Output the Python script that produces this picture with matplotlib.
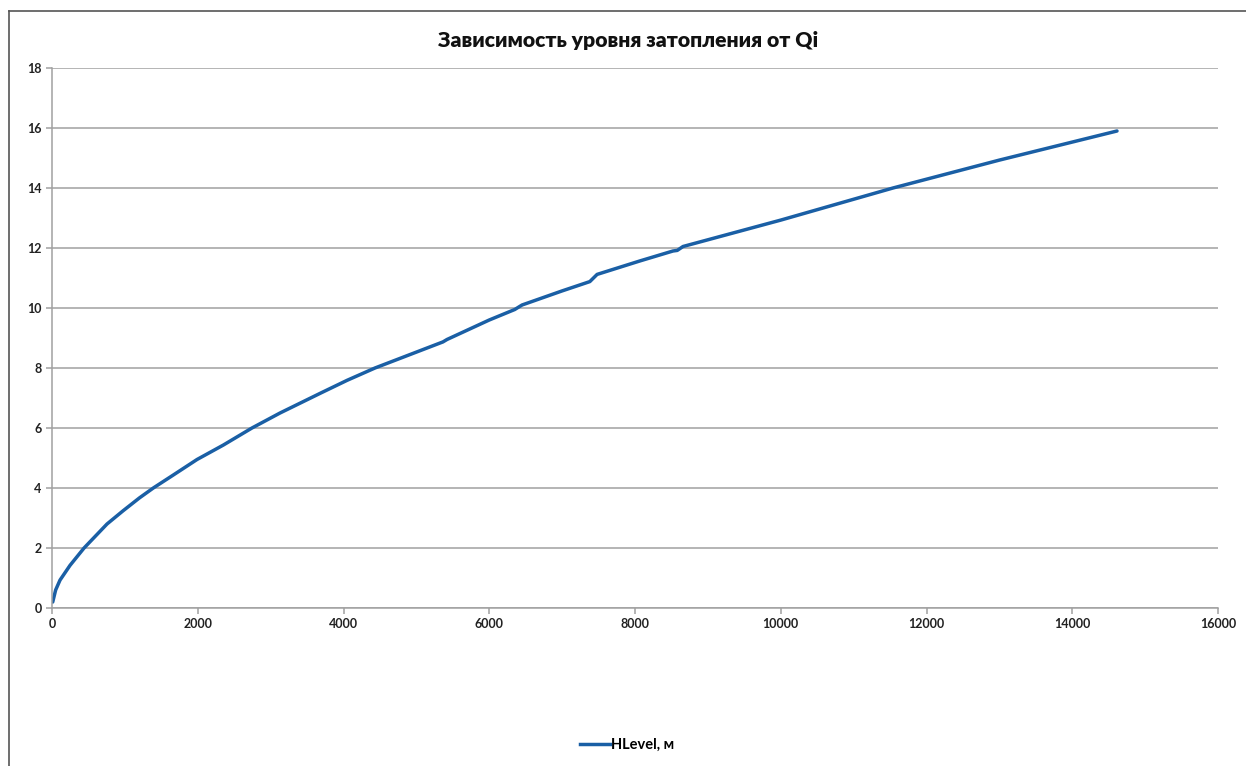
import matplotlib
matplotlib.use("Agg")
import matplotlib.pyplot as plt
import matplotlib.lines as mlines

# данные
qi = [10, 50, 110, 247, 440, 755, 975, 1200, 1390, 1650, 1990, 2350, 2744,
      3129, 3700, 4050, 4432, 5000, 5365, 5420, 6000, 6350, 6450, 7000, 7380,
      7480, 8069, 8521, 8580, 8659, 10000, 11540, 13000, 14614]
hlevel = [0.2, 0.6, 0.93, 1.42, 2.0, 2.8, 3.24, 3.67, 4.0, 4.41, 4.95, 5.43, 6.0,
          6.5, 7.18, 7.59, 8.0, 8.53, 8.87, 8.95, 9.6, 9.95, 10.1, 10.57, 10.88,
          11.12, 11.57, 11.9, 11.92, 12.05, 12.93, 14.0, 14.93, 15.9]
xticks = [0, 2000, 4000, 6000, 8000, 10000, 12000, 14000, 16000]
yticks = [0, 2, 4, 6, 8, 10, 12, 14, 16, 18]

plt.rcParams['font.family'] = ['Lato', 'DejaVu Sans']

fig = plt.figure(figsize=(12.46, 7.66), dpi=100)
ax = fig.add_axes([52/1246, 1 - 608/766, 1166/1246, 540/766])

ax.plot(qi, hlevel, color='#1a5fa5', lw=2.5, solid_capstyle='round',
        solid_joinstyle='round', label='HLevel, м')

ax.set_xlim(0, 16000)
ax.set_ylim(0, 18)
ax.set_xticks(xticks)
ax.set_yticks(yticks)
ax.grid(axis='y', color='#a0a0a0', lw=1.1)
ax.set_axisbelow(True)
for s in ['top', 'right']:
    ax.spines[s].set_visible(False)
for s in ['left', 'bottom']:
    ax.spines[s].set_color('#a0a0a0')
    ax.spines[s].set_linewidth(1.1)
ax.tick_params(colors='#a0a0a0', length=4, width=1.1, labelcolor='#222222',
               labelsize=9)
for lab in ax.get_xticklabels() + ax.get_yticklabels():
    lab.set_fontweight('bold')

fig.text(0.504, 1 - 41/766, 'Зависимость уровня затопления от Qi',
         ha='center', va='center', fontsize=15.2, fontweight='heavy', color='#111111')

leg = fig.legend(handles=[mlines.Line2D([], [], color='#1a5fa5', lw=2.5)],
                 labels=['HLevel, м'], loc='center', bbox_to_anchor=(0.5035, 1 - 745/766),
                 frameon=False, handlelength=2.0, handletextpad=0.1,
                 prop={'weight': 'bold', 'size': 10.5})

# рамка сверху и слева
fig.add_artist(mlines.Line2D([9/1246, 1], [1 - 11/766, 1 - 11/766],
                             color='#555555', lw=1.2, transform=fig.transFigure))
fig.add_artist(mlines.Line2D([9/1246, 9/1246], [0, 1 - 11/766],
                             color='#555555', lw=1.2, transform=fig.transFigure))

fig.savefig('out.png', dpi=100)
